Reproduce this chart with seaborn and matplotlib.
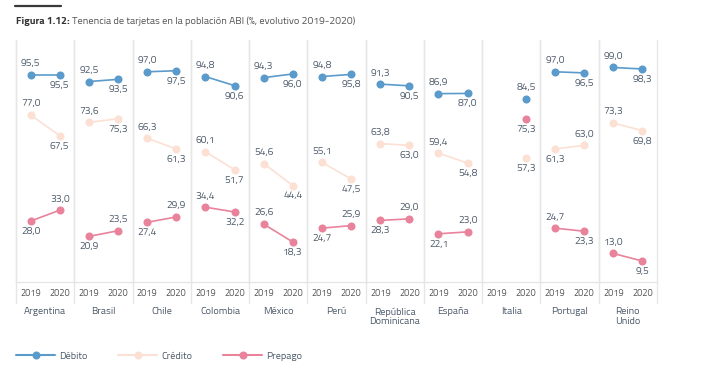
"""Tenencia de tarjetas en la población ABI"""

import numpy as np
import pandas as pd
import seaborn as sns
from matplotlib import pyplot as plt
from matplotlib.lines import Line2D

# datos (% de la población)
paises = ['Argentina', 'Brasil', 'Chile', 'Colombia', 'México', 'Perú',
          'República\nDominicana', 'España', 'Italia', 'Portugal', 'Reino\nUnido']
anios = [2019, 2020]
series = ['Débito', 'Crédito', 'Prepago']

debito_2019 = [95.5, 92.5, 97.0, 94.8, 94.3, 94.8, 91.3, 86.9, np.nan, 97.0, 99.0]
debito_2020 = [95.5, 93.5, 97.5, 90.6, 96.0, 95.8, 90.5, 87.0, 84.5, 96.5, 98.3]
credito_2019 = [77.0, 73.6, 66.3, 60.1, 54.6, 55.1, 63.8, 59.4, np.nan, 61.3, 73.3]
credito_2020 = [67.5, 75.3, 61.3, 51.7, 44.4, 47.5, 63.0, 54.8, 57.3, 63.0, 69.8]
prepago_2019 = [28.0, 20.9, 27.4, 34.4, 26.6, 24.7, 28.3, 22.1, np.nan, 24.7, 13.0]
prepago_2020 = [33.0, 23.5, 29.9, 32.2, 18.3, 25.9, 29.0, 23.0, 75.3, 23.3, 9.5]

valores = {
    'Débito': (debito_2019, debito_2020),
    'Crédito': (credito_2019, credito_2020),
    'Prepago': (prepago_2019, prepago_2020),
}

# tabla larga para seaborn
filas = []
for i, pais in enumerate(paises):
    for serie in series:
        for anio, lista in zip(anios, valores[serie]):
            filas.append({'pais': pais, 'serie': serie, 'anio': anio, 'valor': lista[i]})
df = pd.DataFrame(filas).dropna()

# estilo
sns.set_theme(style='white')
plt.rcParams['font.family'] = ['Titillium Web', 'DejaVu Sans']

colores = {'Débito': '#5b9bcb', 'Crédito': '#fce0d4', 'Prepago': '#e8839b'}
color_texto = '#4d5b6b'
color_linea = '#e6e6e6'
fs = 7.4
# etiquetas que van al revés de la norma (2019 arriba, 2020 abajo)
invertidas = {('Portugal', 'Crédito'), ('Italia', 'Débito')}

W, H = 707, 384
fig, axes = plt.subplots(1, len(paises), sharey=True, figsize=(W / 100, H / 100), dpi=100)
fig.subplots_adjust(left=16 / W, right=657 / W, bottom=1 - 281.6 / H, top=1 - 40 / H, wspace=0)

for k, (ax, pais) in enumerate(zip(axes, paises)):
    d = df[df.pais == pais]
    sns.lineplot(data=d, x='anio', y='valor', hue='serie', hue_order=series,
                 palette=colores, marker='o', markersize=5.8, markeredgewidth=0,
                 linewidth=1.2, legend=False, ax=ax)

    # etiquetas de valores
    for _, r in d.iterrows():
        arriba = r.anio == 2019
        if r.serie == 'Prepago':
            otro = d[(d.serie == 'Prepago') & (d.anio != r.anio)]
            if len(otro) and otro.valor.iloc[0] != r.valor:
                sube = (r.valor < otro.valor.iloc[0]) == (r.anio == 2019)
                if sube:
                    arriba = not arriba
        if (pais, r.serie) in invertidas:
            arriba = not arriba
        ax.annotate(f'{r.valor:.1f}'.replace('.', ','), (r.anio, r.valor),
                    xytext=(0, 8 if arriba else -7.5), textcoords='offset points',
                    ha='center', va='center', fontsize=fs, color=color_texto)

    ax.set_xlim(2018.5, 2020.5)
    ax.set_ylim(0, 111.7)
    ax.set_xticks(anios)
    ax.set_xticklabels([str(a) for a in anios])
    ax.set_yticks([])
    ax.set_ylabel('')
    ax.set_xlabel(pais, fontsize=fs, color=color_texto, labelpad=7, linespacing=1.05)
    ax.tick_params(axis='x', length=0, pad=5, labelsize=6.7, labelcolor='#555555')

    for lado in ['top', 'right']:
        ax.spines[lado].set_visible(False)
    ax.spines['left'].set_color(color_linea)
    ax.spines['bottom'].set_color(color_linea)
    ax.spines['left'].set_linewidth(1)
    ax.spines['bottom'].set_linewidth(1)

    # separadores que bajan hasta la fila de años
    bajo = -(302.7 - 281.6) / (281.6 - 40)
    xs = [0, 1] if k == len(paises) - 1 else [0]
    for x in xs:
        ax.add_line(Line2D([x, x], [bajo, 1], transform=ax.transAxes, color=color_linea,
                           lw=1, clip_on=False))

# título
fig.add_artist(Line2D([15 / W, 61 / W], [1 - 6 / H, 1 - 6 / H], color='#3a3a3a', lw=1.6))
t1 = fig.text(16 / W, 1 - 21 / H, 'Figura 1.12:', fontsize=7.5, weight='bold',
              color='#333333', va='center')
fig.canvas.draw()
ext = t1.get_window_extent()
fig.text((ext.x1 + 2) / W, 1 - 21 / H,
         'Tenencia de tarjetas en la población ABI (%, evolutivo 2019-2020)',
         fontsize=7.5, color='#555555', va='center')

# leyenda
manejos = [Line2D([], [], color=colores[s], marker='o', markersize=5.8,
                  markeredgewidth=0, lw=1.5) for s in series]
fig.legend(manejos, series, loc='center left', bbox_to_anchor=(16 / W, 1 - 356 / H),
           ncol=3, frameon=False, fontsize=fs, handlelength=3.8, handletextpad=0.4,
           columnspacing=3.0, borderpad=0, borderaxespad=0, labelcolor=color_texto)

fig.savefig('out.png', dpi=100)
